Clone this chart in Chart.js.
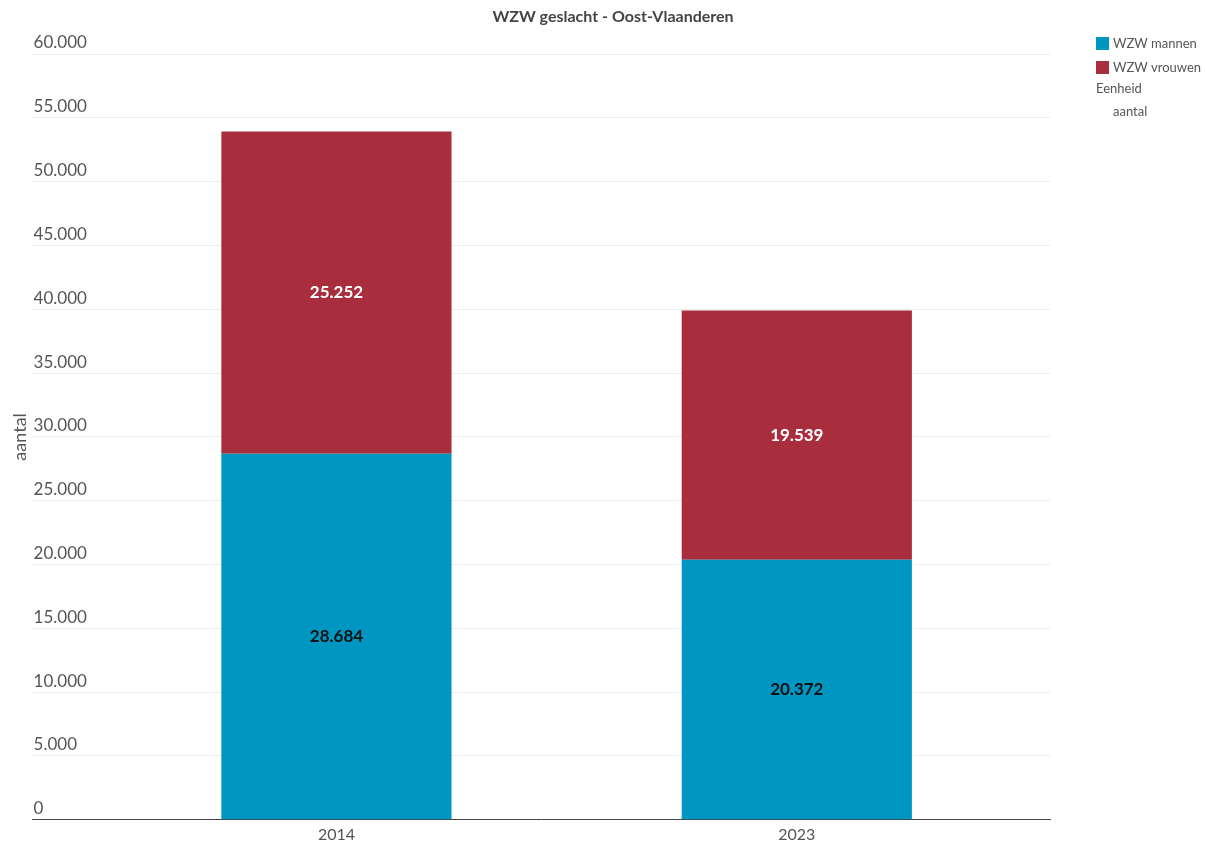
<!DOCTYPE html>
<html>
<head>
<meta charset="utf-8">
<script src="https://cdn.jsdelivr.net/npm/chart.js@4"></script>
<style>
  html, body { margin: 0; padding: 0; background: #fff; }
  #wrap { width: 1205px; height: 849px; }
</style>
</head>
<body>
<div id="wrap"><canvas id="graphic"></canvas></div>
<script>
const years = ["2014", "2023"];
const mannen = [28684, 20372];
const vrouwen = [25252, 19539];
const yTicks = [0, 5000, 10000, 15000, 20000, 25000, 30000, 35000, 40000, 45000, 50000, 55000, 60000];
const chartTitle = "WZW geslacht - Oost-Vlaanderen";
const unitLabel = "Eenheid";
const unitValue = "aantal";

const fmt = (v) => String(v).replace(/\B(?=(\d{3})+(?!\d))/g, ".");

Chart.defaults.font.family = "Lato, 'Open Sans', sans-serif";
Chart.defaults.color = "#555";

// waarden midden in elk segment
const segmentLabels = {
  id: "segmentLabels",
  afterDatasetsDraw(chart) {
    const ctx = chart.ctx;
    chart.data.datasets.forEach((ds, i) => {
      chart.getDatasetMeta(i).data.forEach((bar, j) => {
        ctx.save();
        ctx.font = "bold 17px Lato, sans-serif";
        ctx.fillStyle = ds.labelColor;
        ctx.textAlign = "center";
        ctx.textBaseline = "middle";
        ctx.fillText(fmt(ds.data[j].y), bar.x, (bar.y + bar.base) / 2);
        ctx.restore();
      });
    });
  },
};

// titel + legende rechts
const sideLegend = {
  id: "sideLegend",
  afterDraw(chart) {
    const ctx = chart.ctx;
    ctx.save();
    ctx.font = "bold 16px Lato, sans-serif";
    ctx.fillStyle = "#444";
    ctx.textAlign = "center";
    ctx.textBaseline = "middle";
    ctx.fillText(chartTitle, 613, 17);

    const x = 1096;
    let y = 37;
    ctx.font = "13px Lato, sans-serif";
    ctx.textAlign = "left";
    chart.data.datasets.forEach((ds) => {
      ctx.fillStyle = ds.backgroundColor;
      ctx.fillRect(x, y, 13, 13);
      ctx.fillStyle = "#555";
      ctx.fillText(ds.label, x + 17, y + 7);
      y += 24;
    });
    ctx.fillText(unitLabel, x, 89);
    ctx.fillText(unitValue, x + 17, 112);
    ctx.restore();
  },
};

window.myChart = new Chart(document.getElementById("graphic"), {
  type: "bar",
  data: {
    datasets: [
      {
        label: "WZW mannen",
        data: mannen.map((v, i) => ({ x: i, y: v })),
        backgroundColor: "#0096c2",
        labelColor: "#111",
      },
      {
        label: "WZW vrouwen",
        data: vrouwen.map((v, i) => ({ x: i, y: v })),
        backgroundColor: "#a82e3e",
        labelColor: "#fff",
      },
    ],
  },
  options: {
    responsive: true,
    maintainAspectRatio: false,
    animation: false,
    categoryPercentage: 1,
    barPercentage: 0.5,
    layout: { padding: { left: 0, right: 155, top: 54, bottom: 0 } },
    plugins: {
      legend: { display: false },
      tooltip: { enabled: false },
      title: { display: false },
    },
    scales: {
      x: {
        type: "linear",
        stacked: true,
        offset: false,
        min: -0.66,
        max: 1.55,
        afterBuildTicks: (scale) => {
          scale.ticks = years.map((_, i) => ({ value: i }));
        },
        ticks: {
          callback: (v) => years[v],
          font: { size: 16 },
          padding: 5,
          maxRotation: 0,
        },
        grid: { display: false, drawTicks: false },
        border: { display: true, color: "#444", width: 1 },
      },
      y: {
        stacked: true,
        min: 0,
        max: 60000,
        afterBuildTicks: (scale) => {
          scale.ticks = yTicks.map((v) => ({ value: v }));
        },
        ticks: {
          mirror: true,
          padding: 1,
          labelOffset: -11,
          font: { size: 17 },
          callback: (v) => fmt(v),
        },
        grid: { color: "#ececec", drawTicks: false },
        border: { display: false },
        title: {
          display: true,
          text: "aantal",
          font: { size: 18 },
          padding: { top: 9, bottom: 0 },
        },
      },
    },
  },
  plugins: [segmentLabels, sideLegend],
});
</script>
</body>
</html>
